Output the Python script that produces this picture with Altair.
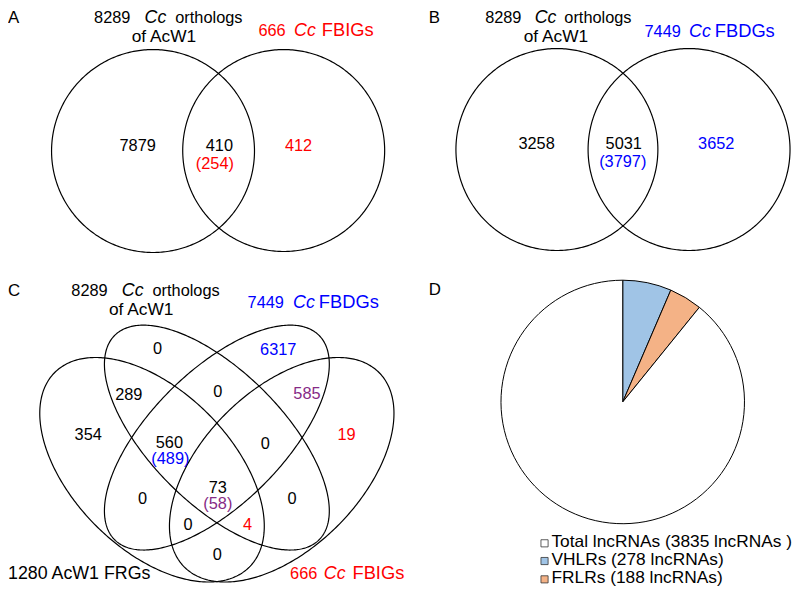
import numpy as np
import pandas as pd
import altair as alt

FONT = "Liberation Sans"
BLACK = "#000000"
RED = "#ff0000"
BLUE = "#0000ff"
PURPLE = "#862a86"

# ---------------- data values ----------------
# Panel A: 8289 Cc orthologs of AcW1 vs 666 Cc FBIGs
a_counts = ["7879", "410", "(254)", "412"]
a_colors = [BLACK, BLACK, RED, RED]
# Panel B: 8289 Cc orthologs of AcW1 vs 7449 Cc FBDGs
b_counts = ["3258", "5031", "(3797)", "3652"]
b_colors = [BLACK, BLACK, BLUE, BLUE]
# Panel C: four-set Venn
c_counts = ["0", "289", "354", "560", "(489)", "0", "0", "0", "6317", "585",
            "19", "0", "73", "(58)", "0", "4", "0"]
c_colors = [BLACK, BLACK, BLACK, BLACK, BLUE, BLACK, BLACK, BLACK, BLUE, PURPLE,
            RED, BLACK, BLACK, PURPLE, BLACK, RED, BLACK]
# Panel D: pie of lncRNAs
pie_names = ["VHLRs", "FRLRs", "Total lncRNAs"]
pie_values = [278, 188, 3835]
pie_colors = ["#a0c4e6", "#f4b286", "#ffffff"]
legend_labels = ["Total lncRNAs (3835 lncRNAs )", "VHLRs (278 lncRNAs)", "FRLRs (188 lncRNAs)"]
legend_colors = ["#ffffff", "#a0c4e6", "#f4b286"]

# Set titles, split into (text, italic, color) segments
set_titles = [
    ("8289", False, BLACK), ("Cc", True, BLACK), ("orthologs", False, BLACK), ("of AcW1", False, BLACK),
    ("666", False, RED), ("Cc", True, RED), ("FBIGs", False, RED),
    ("8289", False, BLACK), ("Cc", True, BLACK), ("orthologs", False, BLACK), ("of AcW1", False, BLACK),
    ("7449", False, BLUE), ("Cc", True, BLUE), ("FBDGs", False, BLUE),
    ("8289", False, BLACK), ("Cc", True, BLACK), ("orthologs", False, BLACK), ("of AcW1", False, BLACK),
    ("7449", False, BLUE), ("Cc", True, BLUE), ("FBDGs", False, BLUE),
    ("1280 AcW1 FRGs", False, BLACK),
    ("666", False, RED), ("Cc", True, RED), ("FBIGs", False, RED),
]
panel_letters = ["A", "B", "C", "D"]

# ---------------- layout (image pixel coordinates, font sizes) ----------------
a_pos = [(139, 149), (221.5, 149), (217, 168), (301.5, 149)]
b_pos = [(542, 147), (630, 147), (629, 166), (723.5, 147)]
c_pos = [(159, 355), (130, 401), (89, 441.5), (171, 449.5), (172, 465.5), (144, 506.5),
         (190, 532.5), (220, 397.5), (281, 355.5), (310, 400.5), (350, 441), (268, 451),
         (220, 494.5), (220, 511), (295, 506.5), (250, 532.5), (219.5, 562.5)]
title_pos = [
    (95, 20.5), (146, 20.5), (177, 20.5), (133, 39.5),
    (261, 33), (297, 33), (325, 33),
    (490, 20.5), (540, 20.5), (570, 20.5), (529, 39.5),
    (651, 34), (696, 34), (722, 34),
    (72, 296), (123, 296), (154, 296), (110, 315),
    (250, 308), (296, 308), (322, 308),
    (8, 582),
    (293, 582), (327, 582), (356, 582),
]
title_size = [
    16.5, 18, 16.5, 17.5,
    16.5, 18, 18.5,
    16.5, 18, 16.5, 17.5,
    16.5, 18, 18.5,
    16.5, 18, 16.5, 17.5,
    16.5, 18, 18.5,
    18,
    16.5, 18, 18.5,
]
letter_pos = [(8, 20.5), (433, 20), (8, 296), (433, 295)]
legend_sq_pos = [(550, 545.8), (550, 563.7), (550, 582.2)]
legend_txt_pos = [(557, 550), (557, 568), (557, 586)]
pie_center = (629, 403)
pie_radius = 123

# circles / ellipses: (cx, cy, a, b, angle_deg)
shapes = [
    (154.5, 149.5, 102.5, 102.5, 0), (286.5, 149, 102, 102, 0),
    (562.5, 148, 102, 102, 0), (696, 148, 102, 102, 0),
    (219, 439, 146, 67, 45), (219, 439, 146, 67, 135),
    (153.5, 471.5, 139, 80, 45), (284.5, 471.5, 139, 80, 135),
]

# ---------------- build tables ----------------
rows = []
for k, (cx, cy, a, b, deg) in enumerate(shapes):
    t = np.linspace(0, 2 * np.pi, 361)
    th = np.radians(deg)
    xs_ = cx + a * np.cos(t) * np.cos(th) - b * np.sin(t) * np.sin(th)
    ys_ = cy + a * np.cos(t) * np.sin(th) + b * np.sin(t) * np.cos(th)
    for i, (x, y) in enumerate(zip(xs_, ys_)):
        rows.append({"shape": k, "i": i, "px": x, "py": y})
outline_df = pd.DataFrame(rows)

counts_df = pd.DataFrame({
    "label": a_counts + b_counts + c_counts,
    "color": a_colors + b_colors + c_colors,
    "px": [p[0] for p in a_pos + b_pos + c_pos],
    "py": [p[1] for p in a_pos + b_pos + c_pos],
})

titles_df = pd.DataFrame({
    "label": [s[0] for s in set_titles],
    "italic": [s[1] for s in set_titles],
    "color": [s[2] for s in set_titles],
    "px": [p[0] for p in title_pos],
    "py": [p[1] for p in title_pos],
    "fs": title_size,
})

letters_df = pd.DataFrame({
    "label": panel_letters,
    "px": [p[0] for p in letter_pos],
    "py": [p[1] for p in letter_pos],
})

pie_df = pd.DataFrame({
    "name": pie_names,
    "value": pie_values,
    "fill": pie_colors,
    "ord": list(range(len(pie_names))),
})

legend_df = pd.DataFrame({
    "label": legend_labels,
    "fill": legend_colors,
    "sx": [p[0] for p in legend_sq_pos],
    "sy": [p[1] for p in legend_sq_pos],
    "px": [p[0] for p in legend_txt_pos],
    "py": [p[1] for p in legend_txt_pos],
})

W, H = 792, 584
xs = alt.Scale(domain=[8, 8 + W], nice=False, zero=False)
ys = alt.Scale(domain=[8, 8 + H], nice=False, zero=False, reverse=True)

X = lambda f: alt.X(f, type="quantitative", scale=xs, axis=None)
Y = lambda f: alt.Y(f, type="quantitative", scale=ys, axis=None)

outlines = alt.Chart(outline_df).mark_line(color="black", strokeWidth=1.2).encode(
    x=X("px"), y=Y("py"), detail="shape:N", order="i:Q"
)

pie = alt.Chart(pie_df).mark_arc(outerRadius=pie_radius, stroke="black", strokeWidth=1).encode(
    x=alt.X(datum=pie_center[0], type="quantitative", scale=xs, axis=None),
    y=alt.Y(datum=pie_center[1], type="quantitative", scale=ys, axis=None),
    theta=alt.Theta("value:Q", stack=True),
    order=alt.Order("ord:Q"),
    color=alt.Color("fill:N", scale=None),
)

counts = alt.Chart(counts_df).mark_text(
    font=FONT, fontSize=16.5, align="center", baseline="alphabetic"
).encode(x=X("px"), y=Y("py"), text="label:N", color=alt.Color("color:N", scale=None))

titles_n = alt.Chart(titles_df).transform_filter("!datum.italic").mark_text(
    font=FONT, align="left", baseline="alphabetic"
).encode(x=X("px"), y=Y("py"), text="label:N", color=alt.Color("color:N", scale=None),
         size=alt.Size("fs:Q", scale=None))

titles_i = alt.Chart(titles_df).transform_filter("datum.italic").mark_text(
    font=FONT, fontStyle="italic", align="left", baseline="alphabetic"
).encode(x=X("px"), y=Y("py"), text="label:N", color=alt.Color("color:N", scale=None),
         size=alt.Size("fs:Q", scale=None))

letters = alt.Chart(letters_df).mark_text(
    font=FONT, fontSize=17, align="left", baseline="alphabetic", color="black"
).encode(x=X("px"), y=Y("py"), text="label:N")

leg_sq = alt.Chart(legend_df).mark_square(size=52, stroke="#333333", strokeWidth=0.8, opacity=1).encode(
    x=X("sx"), y=Y("sy"), color=alt.Color("fill:N", scale=None)
)
leg_txt = alt.Chart(legend_df).mark_text(
    font=FONT, fontSize=17.5, align="left", baseline="alphabetic", color="black"
).encode(x=X("px"), y=Y("py"), text="label:N")

chart = alt.layer(outlines, pie, counts, titles_n, titles_i, letters, leg_sq, leg_txt).properties(
    width=W, height=H, padding=0, autosize="none", background="white"
).configure_view(stroke=None)

chart.save("out.html", embed_options={"renderer": "svg", "actions": False})
